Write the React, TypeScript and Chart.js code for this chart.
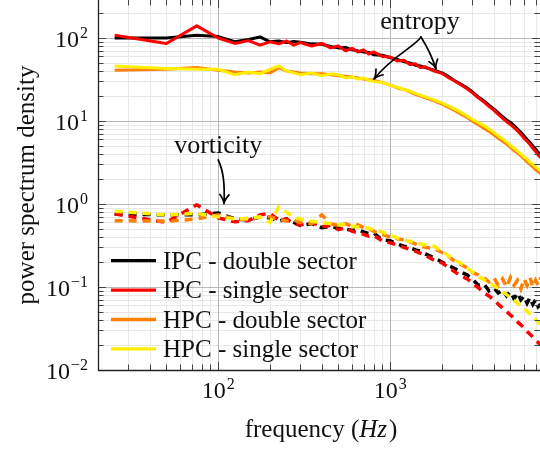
import React, { useEffect, useRef } from 'react';
import { Chart, registerables } from 'chart.js';

Chart.register(...registerables);

// ---------- data ----------
const frequencies = [25, 50, 75, 100, 125, 150, 175, 200, 225, 250, 275, 300,
  350, 400, 450, 500, 550, 600, 650, 700, 750, 800,
  900, 1000, 1100, 1200, 1300, 1400, 1500, 1600,
  1800, 2000, 2200, 2400, 2600, 2800, 3000,
  3250, 3500, 3750, 4000, 4250, 4500, 4750, 5000, 5250, 5500, 5750, 6000, 6250, 6500, 6750, 7000, 7250, 7500];

const entropyIpcDouble = [100, 100, 108, 104, 90, 96, 103, 90, 92, 88, 91, 89,
  85, 84, 79, 76, 77, 72, 70, 68, 67, 63,
  62, 58, 55, 52, 50, 47, 46, 44,
  41, 38, 34, 30, 27.5, 25, 22.5,
  19.5, 17.5, 15.5, 14, 12.5, 11.3, 10.3, 9.6, 8.8, 8, 7.3, 6.6, 6.0, 5.5, 5.0, 4.6, 4.2, 3.9];
const entropyIpcSingle = [108, 86, 140, 100, 86, 93, 82, 90, 85, 92, 82, 88,
  80, 86, 76, 80, 70, 75, 68, 72, 64, 68,
  60, 59, 53, 54, 48, 49, 44, 45,
  40, 37.5, 33, 30, 27, 24.5, 22,
  19, 17, 15, 13.5, 12, 10.8, 9.8, 9.1, 8.3, 7.6, 6.9, 6.2, 5.7, 5.2, 4.7, 4.3, 3.9, 3.6];
const entropyHpcDouble = [41, 42, 44, 41, 39, 38, 39, 38, 44, 40, 39, 38,
  37, 37, 36, 35, 34.5, 34, 33, 32, 31.5, 31,
  29, 27, 25, 24, 22.5, 21, 20, 19,
  17.5, 16, 14.5, 13.2, 12, 11, 10,
  9, 8.2, 7.5, 6.8, 6.2, 5.7, 5.3, 4.8, 4.4, 4.1, 3.8, 3.5, 3.2, 3.0, 2.8, 2.6, 2.45, 2.3];
const entropyHpcSingle = [46, 43, 42, 42, 36, 39, 37, 42, 46, 40, 38, 36,
  38, 35, 37, 36, 33, 34, 32, 33, 31, 30,
  29, 27, 25.5, 24, 23, 21.5, 20.5, 19.5,
  18, 16.5, 15, 13.8, 12.6, 11.5, 10.5,
  9.6, 8.8, 8.0, 7.3, 6.6, 6.1, 5.6, 5.1, 4.7, 4.35, 4.0, 3.7, 3.45, 3.2, 3.0, 2.8, 2.65, 2.5];

const vorticityIpcDouble = [0.76, 0.74, 0.74, 0.78, 0.66, 0.64, 0.70, 0.68, 0.62, 0.66, 0.6, 0.55,
  0.58, 0.52, 0.54, 0.51, 0.5, 0.48, 0.49, 0.46, 0.44, 0.45,
  0.37, 0.36, 0.33, 0.31, 0.3, 0.28, 0.27, 0.25,
  0.225, 0.2, 0.18, 0.165, 0.15, 0.14, 0.125,
  0.105, 0.11, 0.09, 0.098, 0.085, 0.092, 0.078, 0.088, 0.072, 0.085, 0.07, 0.078, 0.064, 0.075, 0.062, 0.07, 0.058, 0.062];
const vorticityIpcSingle = [0.76, 0.6, 0.98, 0.68, 0.61, 0.63, 0.74, 0.77, 0.64, 0.66, 0.58, 0.56,
  0.6, 0.53, 0.55, 0.49, 0.52, 0.47, 0.45, 0.43, 0.41, 0.42,
  0.36, 0.34, 0.32, 0.3, 0.285, 0.27, 0.255, 0.24,
  0.21, 0.195, 0.17, 0.15, 0.135, 0.125, 0.112,
  0.098, 0.086, 0.078, 0.07, 0.062, 0.056, 0.051, 0.046, 0.042, 0.038, 0.035, 0.032, 0.029, 0.027, 0.025, 0.023, 0.0215, 0.02];
const vorticityHpcDouble = [0.63, 0.62, 0.66, 0.74, 0.66, 0.65, 0.70, 0.70, 0.66, 0.62, 0.64, 0.6,
  0.58, 0.74, 0.58, 0.55, 0.58, 0.54, 0.56, 0.52, 0.5, 0.47,
  0.43, 0.4, 0.38, 0.37, 0.35, 0.33, 0.31, 0.3,
  0.29, 0.26, 0.23, 0.2, 0.185, 0.17, 0.15,
  0.14, 0.13, 0.115, 0.13, 0.105, 0.125, 0.1, 0.13, 0.105, 0.12, 0.095, 0.125, 0.105, 0.13, 0.1, 0.12, 0.105, 0.13];
const vorticityHpcSingle = [0.82, 0.74, 0.77, 0.70, 0.66, 0.67, 0.70, 0.6, 0.92, 0.8, 0.68, 0.66,
  0.62, 0.6, 0.58, 0.56, 0.57, 0.54, 0.53, 0.52, 0.51, 0.49,
  0.46, 0.42, 0.39, 0.37, 0.355, 0.34, 0.33, 0.32,
  0.31, 0.27, 0.235, 0.21, 0.19, 0.17, 0.152,
  0.135, 0.122, 0.112, 0.104, 0.096, 0.088, 0.081, 0.075, 0.069, 0.064, 0.059, 0.055, 0.051, 0.047, 0.044, 0.041, 0.038, 0.035];

const seriesLabels = ['IPC - double sector', 'IPC - single sector', 'HPC - double sector', 'HPC - single sector'];
const seriesColors = ['#000000', '#ff0000', '#ff8000', '#ffee00'];
const entropySeries = [entropyIpcDouble, entropyIpcSingle, entropyHpcDouble, entropyHpcSingle];
const vorticitySeries = [vorticityIpcDouble, vorticityIpcSingle, vorticityHpcDouble, vorticityHpcSingle];

const xRange = [20, 7430];
const yRange = [0.01, 287];
const xTickExponents = [2, 3];
const yTickExponents = [-2, -1, 0, 1, 2];
const xTitle = ['frequency (', 'Hz', ')'];
const yTitle = 'power spectrum density';

// annotation anchors (data coordinates)
const entropyLabelAt = [1489, 127];
const entropyArrowFrom = [1510, 103];
const entropyArrowTo = [[805, 32], [1845, 42.4]];
const vorticityLabelAt = [100, 4.15];
const vorticityArrowFrom = [100, 3.39];
const vorticityArrowTo = [108, 1.01];

const FONT = '"Liberation Serif", "Times New Roman", serif';

function logSteps(min: number, max: number) {
  const out: { v: number; major: boolean }[] = [];
  const e0 = Math.floor(Math.log10(min));
  const e1 = Math.ceil(Math.log10(max));
  for (let e = e0; e <= e1; e++) {
    for (let m = 1; m <= 9; m++) {
      const v = m * Math.pow(10, e);
      if (v >= min * 0.9999 && v <= max * 1.0001) out.push({ v, major: m === 1 });
    }
  }
  return out;
}

function drawArrow(ctx: any, s: number[], c1: number[], c2: number[], e: number[]) {
  ctx.beginPath();
  ctx.moveTo(s[0], s[1]);
  ctx.bezierCurveTo(c1[0], c1[1], c2[0], c2[1], e[0], e[1]);
  ctx.stroke();
  let dx = e[0] - c2[0];
  let dy = e[1] - c2[1];
  const len = Math.hypot(dx, dy) || 1;
  dx /= len; dy /= len;
  const px = -dy, py = dx;
  const L = 9, W = 4.5;
  ctx.beginPath();
  ctx.moveTo(e[0] - dx * L + px * W, e[1] - dy * L + py * W);
  ctx.quadraticCurveTo(e[0] - dx * 3, e[1] - dy * 3, e[0], e[1]);
  ctx.quadraticCurveTo(e[0] - dx * 3, e[1] - dy * 3, e[0] - dx * L - px * W, e[1] - dy * L - py * W);
  ctx.stroke();
}

function drawPower(ctx: any, exp: number, x: number, y: number, align: 'right' | 'center') {
  const base = '10';
  const ex = exp < 0 ? '\u2212' + Math.abs(exp) : String(exp);
  ctx.font = `24px ${FONT}`;
  const wb = ctx.measureText(base).width;
  ctx.font = `16px ${FONT}`;
  const we = ctx.measureText(ex).width;
  const total = wb + we + 1;
  const start = align === 'right' ? x - total : x - total / 2;
  ctx.textAlign = 'left';
  ctx.textBaseline = 'alphabetic';
  ctx.font = `24px ${FONT}`;
  ctx.fillText(base, start, y);
  ctx.font = `16px ${FONT}`;
  ctx.fillText(ex, start + wb + 1, y - 9);
}

const pgfPlugin = {
  id: 'pgfDecor',
  beforeDatasetsDraw(chart: any) {
    const { ctx, chartArea: a, scales } = chart;
    const x = scales.x, y = scales.y;
    ctx.save();
    ctx.lineWidth = 1;
    const xs = logSteps(xRange[0], xRange[1]);
    const ys = logSteps(yRange[0], yRange[1]);
    for (const pass of [false, true]) {
      ctx.strokeStyle = pass ? '#b8b8b8' : '#e8e8e8';
      ctx.beginPath();
      for (const t of xs) {
        if (t.major !== pass) continue;
        const px = Math.round(x.getPixelForValue(t.v)) + 0.5;
        ctx.moveTo(px, a.top);
        ctx.lineTo(px, a.bottom);
      }
      for (const t of ys) {
        if (t.major !== pass) continue;
        const py = Math.round(y.getPixelForValue(t.v)) + 0.5;
        ctx.moveTo(a.left, py);
        ctx.lineTo(a.right, py);
      }
      ctx.stroke();
    }
    ctx.restore();
  },
  afterDatasetsDraw(chart: any) {
    const { ctx, chartArea: a, scales } = chart;
    const x = scales.x, y = scales.y;
    ctx.save();
    // ticks (inward, all four sides)
    ctx.strokeStyle = '#444';
    ctx.lineWidth = 1;
    ctx.beginPath();
    for (const t of logSteps(xRange[0], xRange[1])) {
      const px = Math.round(x.getPixelForValue(t.v)) + 0.5;
      const L = t.major ? 8 : 5.5;
      ctx.moveTo(px, a.bottom); ctx.lineTo(px, a.bottom - L);
      ctx.moveTo(px, a.top); ctx.lineTo(px, a.top + L);
    }
    for (const t of logSteps(yRange[0], yRange[1])) {
      const py = Math.round(y.getPixelForValue(t.v)) + 0.5;
      const L = t.major ? 8 : 5.5;
      ctx.moveTo(a.left, py); ctx.lineTo(a.left + L, py);
      ctx.moveTo(a.right, py); ctx.lineTo(a.right - L, py);
    }
    ctx.stroke();
    // axis lines
    ctx.strokeStyle = '#222';
    ctx.lineWidth = 1.3;
    ctx.beginPath();
    ctx.moveTo(a.left + 0.5, a.top);
    ctx.lineTo(a.left + 0.5, a.bottom + 0.5);
    ctx.lineTo(a.right, a.bottom + 0.5);
    ctx.stroke();

    ctx.fillStyle = '#111';
    // tick labels
    for (const e of yTickExponents) {
      const py = y.getPixelForValue(Math.pow(10, e));
      drawPower(ctx, e, a.left - 10, py + 9, 'right');
    }
    for (const e of xTickExponents) {
      const px = x.getPixelForValue(Math.pow(10, e));
      drawPower(ctx, e, px, a.bottom + 28, 'center');
    }
    // axis titles
    ctx.textBaseline = 'alphabetic';
    {
      ctx.font = `25px ${FONT}`;
      const w0 = ctx.measureText(xTitle[0]).width;
      const w2 = ctx.measureText(xTitle[2]).width;
      ctx.font = `italic 25px ${FONT}`;
      const w1 = ctx.measureText(xTitle[1]).width + 2;
      const cx = (a.left + a.right) / 2 + 2;
      let sx = cx - (w0 + w1 + w2) / 2;
      const by = a.bottom + 67;
      ctx.textAlign = 'left';
      ctx.font = `25px ${FONT}`;
      ctx.fillText(xTitle[0], sx, by);
      sx += w0;
      ctx.font = `italic 25px ${FONT}`;
      ctx.fillText(xTitle[1], sx, by);
      sx += w1;
      ctx.font = `25px ${FONT}`;
      ctx.fillText(xTitle[2], sx, by);
    }
    ctx.save();
    ctx.translate(34, (a.top + a.bottom) / 2);
    ctx.rotate(-Math.PI / 2);
    ctx.textAlign = 'center';
    ctx.font = `25px ${FONT}`;
    ctx.fillText(yTitle, 0, 0);
    ctx.restore();

    // legend
    for (let i = 0; i < seriesLabels.length; i++) {
      const ly = a.bottom - 109.3 + i * 29.4;
      ctx.strokeStyle = seriesColors[i];
      ctx.lineWidth = 3.3;
      ctx.setLineDash([]);
      ctx.beginPath();
      ctx.moveTo(a.left + 13, ly);
      ctx.lineTo(a.left + 58, ly);
      ctx.stroke();
      ctx.fillStyle = '#111';
      ctx.font = `25px ${FONT}`;
      ctx.textAlign = 'left';
      ctx.fillText(seriesLabels[i], a.left + 65, ly + 8);
    }

    // annotations
    const P = (p: number[]) => [x.getPixelForValue(p[0]), y.getPixelForValue(p[1])];
    ctx.fillStyle = '#111';
    ctx.textAlign = 'center';
    ctx.font = `26px ${FONT}`;
    const el = P(entropyLabelAt);
    ctx.fillText('entropy', el[0], el[1]);
    const vl = P(vorticityLabelAt);
    ctx.fillText('vorticity', vl[0], vl[1]);

    ctx.strokeStyle = '#000';
    ctx.lineWidth = 1.7;
    ctx.lineCap = 'round';
    const es = P(entropyArrowFrom);
    const e1 = P(entropyArrowTo[0]);
    const e2 = P(entropyArrowTo[1]);
    drawArrow(ctx, es, [es[0] - 5, es[1] + 9], [e1[0] + 18, e1[1] - 23], e1);
    drawArrow(ctx, es, [es[0] + 5, es[1] + 8], [e2[0] - 4, e2[1] - 13], e2);
    const vs = P(vorticityArrowFrom);
    const ve = P(vorticityArrowTo);
    drawArrow(ctx, vs, [vs[0] + 5, vs[1] + 10], [ve[0] + 1, ve[1] - 18], ve);
    ctx.restore();
  },
};

export default function App() {
  const ref = useRef<HTMLCanvasElement | null>(null);
  useEffect(() => {
    if (!ref.current) return;
    const datasets: any[] = [];
    entropySeries.forEach((vals, i) => {
      datasets.push({
        label: seriesLabels[i] + ' (entropy)',
        data: frequencies.map((f, j) => ({ x: f, y: vals[j] })),
        borderColor: seriesColors[i],
        borderWidth: 3,
        pointRadius: 0,
        fill: false,
        tension: 0,
        borderJoinStyle: 'round',
        clip: 0,
      });
    });
    vorticitySeries.forEach((vals, i) => {
      datasets.push({
        label: seriesLabels[i] + ' (vorticity)',
        data: frequencies.map((f, j) => ({ x: f, y: vals[j] })),
        borderColor: seriesColors[i],
        borderWidth: 3.5,
        borderDash: [8, 6],
        pointRadius: 0,
        fill: false,
        tension: 0,
        clip: 0,
      });
    });
    // Chart.js paints the first dataset on top; reverse so later series lie over earlier ones
    datasets.reverse();
    const chart = new Chart(ref.current, {
      type: 'line',
      data: { datasets },
      options: {
        responsive: false,
        animation: false,
        devicePixelRatio: 1,
        events: [],
        layout: { padding: { left: 98, right: 0, top: 0, bottom: 80 } },
        scales: {
          x: { type: 'logarithmic', min: xRange[0], max: xRange[1], display: false },
          y: { type: 'logarithmic', min: yRange[0], max: yRange[1], display: false },
        },
        plugins: { legend: { display: false }, tooltip: { enabled: false } },
      },
      plugins: [pgfPlugin],
    } as any);
    return () => chart.destroy();
  }, []);
  return (
    <div style={{ position: 'absolute', left: 0, top: 0, width: 540, height: 450, background: '#fff' }}>
      <canvas ref={ref} width={540} height={450} style={{ display: 'block' }} />
    </div>
  );
}
